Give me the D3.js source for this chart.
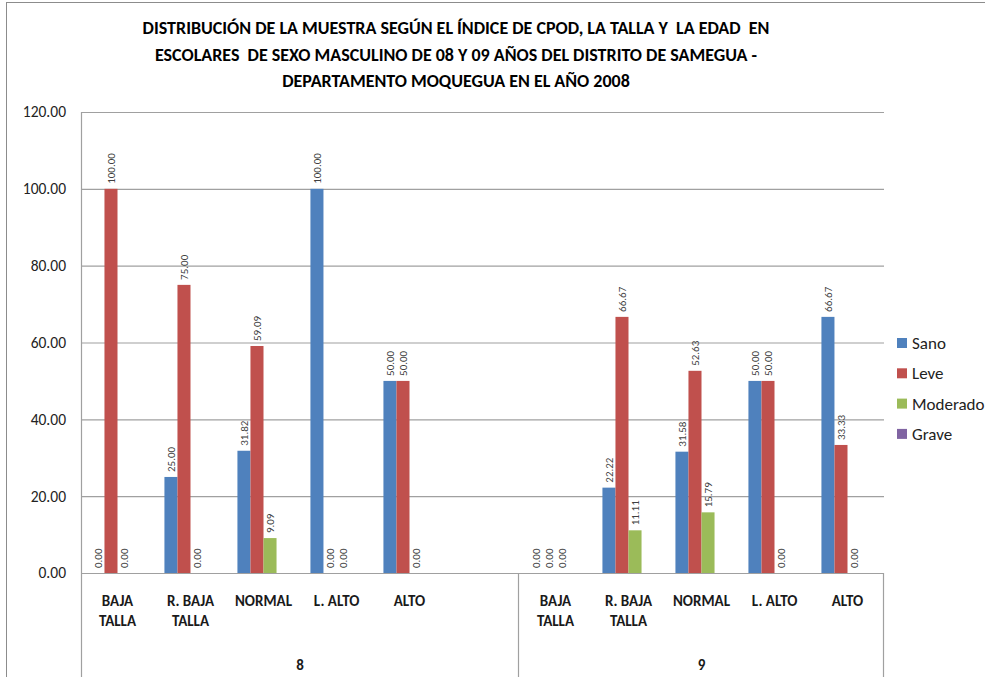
<!DOCTYPE html>
<html>
<head>
<meta charset="utf-8">
<script src="https://cdn.jsdelivr.net/npm/d3@7/dist/d3.min.js"></script>
<style>
  html, body { margin: 0; padding: 0; background: #ffffff; }
  svg { display: block; }
  text { font-family: Carlito, Calibri, Lato, "Liberation Sans", sans-serif; }
</style>
</head>
<body>
<svg id="chart" width="985" height="677"></svg>
<script>
// Title lines
const tituloLineas = [
  "DISTRIBUCIÓN DE LA MUESTRA SEGÚN EL ÍNDICE DE CPOD, LA TALLA Y  LA EDAD  EN",
  "ESCOLARES  DE SEXO MASCULINO DE 08 Y 09 AÑOS DEL DISTRITO DE SAMEGUA -",
  "DEPARTAMENTO MOQUEGUA EN EL AÑO 2008"
];

// Category slots along the x axis (age 8 block has a trailing empty slot)
const categorias = ["BAJA TALLA", "R. BAJA TALLA", "NORMAL", "L. ALTO", "ALTO", "",
                    "BAJA TALLA", "R. BAJA TALLA", "NORMAL", "L. ALTO", "ALTO"];
const edades = ["8", "9"];
const slotsPorEdad = [6, 5];

// Series (CPOD index levels)
const series = ["Sano", "Leve", "Moderado", "Grave"];
const colores = ["#4F81BD", "#C0504D", "#9BBB59", "#8064A2"];

// Percentages per category slot (null = no value)
const sano     = [0, 25, 31.82, 100, 50, null, 0, 22.22, 31.58, 50, 66.67];
const leve     = [100, 75, 59.09, 0, 50, null, 0, 66.67, 52.63, 50, 33.33];
const moderado = [0, 0, 9.09, 0, 0, null, 0, 11.11, 15.79, 0, 0];
const grave    = [null, null, null, null, null, null, null, null, null, null, null];

// Y axis ticks
const yTicks = [0, 20, 40, 60, 80, 100, 120];

const valores = [sano, leve, moderado, grave];

const svg = d3.select("#chart");
const plot = { left: 81, right: 884, top: 112, bottom: 573 };

// Chart area border
svg.append("rect")
  .attr("x", 6.5).attr("y", 2.5)
  .attr("width", 1100).attr("height", 800)
  .attr("fill", "#fff").attr("stroke", "#8c8c8c").attr("stroke-width", 1);

// Title
svg.append("g").selectAll("text")
  .data(tituloLineas)
  .join("text")
  .attr("x", 456)
  .attr("y", (d, i) => 34 + i * 26.5)
  .attr("text-anchor", "middle")
  .attr("font-size", 18)
  .attr("font-weight", "bold")
  .attr("fill", "#000")
  .style("white-space", "pre")
  .attr("xml:space", "preserve")
  .text(d => d);

const x = d3.scaleBand()
  .domain(d3.range(categorias.length))
  .range([plot.left, plot.right])
  .padding(0);

const xs = d3.scaleBand()
  .domain(series)
  .range([0, x.bandwidth()])
  .paddingInner(0)
  .paddingOuter(0.8);

const y = d3.scaleLinear()
  .domain([0, 120])
  .range([plot.bottom, plot.top]);

// Gridlines
svg.append("g")
  .attr("transform", `translate(${plot.left},0)`)
  .call(d3.axisLeft(y).tickValues(yTicks).tickSize(-(plot.right - plot.left)).tickFormat(""))
  .call(g => g.select(".domain").remove())
  .call(g => g.selectAll("line").attr("stroke", "#a0a0a0").attr("stroke-width", 1.2));

// Y axis labels
svg.append("g")
  .attr("transform", `translate(${plot.left},0)`)
  .call(d3.axisLeft(y).tickValues(yTicks).tickSize(0).tickPadding(15).tickFormat(d3.format(".2f")))
  .call(g => g.select(".domain").remove())
  .call(g => g.selectAll("text")
    .attr("font-size", 15.5)
    .attr("fill", "#222")
    .style("font-family", "Carlito, Calibri, Lato, 'Liberation Sans', sans-serif"));

// Bars
const filas = [];
categorias.forEach((c, i) => {
  series.forEach((s, k) => {
    const v = valores[k][i];
    if (v !== null) filas.push({ i, s, k, v });
  });
});

svg.append("g").selectAll("rect")
  .data(filas)
  .join("rect")
  .attr("x", d => x(d.i) + xs(d.s))
  .attr("y", d => y(d.v))
  .attr("width", xs.bandwidth())
  .attr("height", d => y(0) - y(d.v))
  .attr("fill", d => colores[d.k]);

// Data labels (rotated)
svg.append("g").selectAll("text")
  .data(filas)
  .join("text")
  .attr("transform", d => `translate(${x(d.i) + xs(d.s) + xs.bandwidth() / 2},${y(d.v) - 5}) rotate(-90)`)
  .attr("dy", "0.35em")
  .attr("text-anchor", "start")
  .attr("font-size", 11)
  .attr("fill", "#404040")
  .text(d => d3.format(".2f")(d.v));

// Axis frame: vertical axis, baseline and category box dividers
const lineas = svg.append("g").attr("stroke", "#a0a0a0").attr("stroke-width", 1.2);
lineas.append("line")
  .attr("x1", plot.left + 0.5).attr("x2", plot.left + 0.5)
  .attr("y1", plot.top).attr("y2", 700);
lineas.append("line")
  .attr("x1", plot.left).attr("x2", plot.right)
  .attr("y1", plot.bottom + 0.5).attr("y2", plot.bottom + 0.5);

let inicio = 0;
const limites = slotsPorEdad.map(n => { inicio += n; return inicio; });
limites.forEach(fin => {
  const xb = fin < categorias.length ? x(fin) : plot.right;
  lineas.append("line")
    .attr("x1", xb - 0.5).attr("x2", xb - 0.5)
    .attr("y1", plot.bottom).attr("y2", 700);
});

// Category labels (two lines max)
const catG = svg.append("g")
  .attr("font-size", 15)
  .attr("font-weight", "bold")
  .attr("fill", "#1a1a1a")
  .attr("text-anchor", "middle");

categorias.forEach((c, i) => {
  if (!c) return;
  const partes = c === "BAJA TALLA" ? ["BAJA", "TALLA"]
               : c === "R. BAJA TALLA" ? ["R. BAJA", "TALLA"]
               : [c];
  const t = catG.append("text")
    .attr("x", x(i) + x.bandwidth() / 2)
    .attr("y", 606);
  partes.forEach((p, j) => {
    t.append("tspan")
      .attr("x", x(i) + x.bandwidth() / 2)
      .attr("dy", j === 0 ? 0 : 20)
      .text(p);
  });
});

// Age group labels
let acum = 0;
edades.forEach((e, g) => {
  const a = acum, b = acum + slotsPorEdad[g];
  acum = b;
  const x0 = x(a);
  const x1 = b < categorias.length ? x(b) : plot.right;
  catG.append("text")
    .attr("x", (x0 + x1) / 2)
    .attr("y", 670)
    .text(e);
});

// Legend
const leg = svg.append("g").attr("transform", "translate(897,343)");
series.forEach((s, k) => {
  const row = leg.append("g").attr("transform", `translate(0,${k * 30.3})`);
  row.append("rect")
    .attr("x", 0).attr("y", -5)
    .attr("width", 10).attr("height", 10)
    .attr("fill", colores[k]);
  row.append("text")
    .attr("x", 15).attr("y", 0)
    .attr("dy", "0.35em")
    .attr("font-size", 17)
    .attr("fill", "#222")
    .text(s);
});
</script>
</body>
</html>
